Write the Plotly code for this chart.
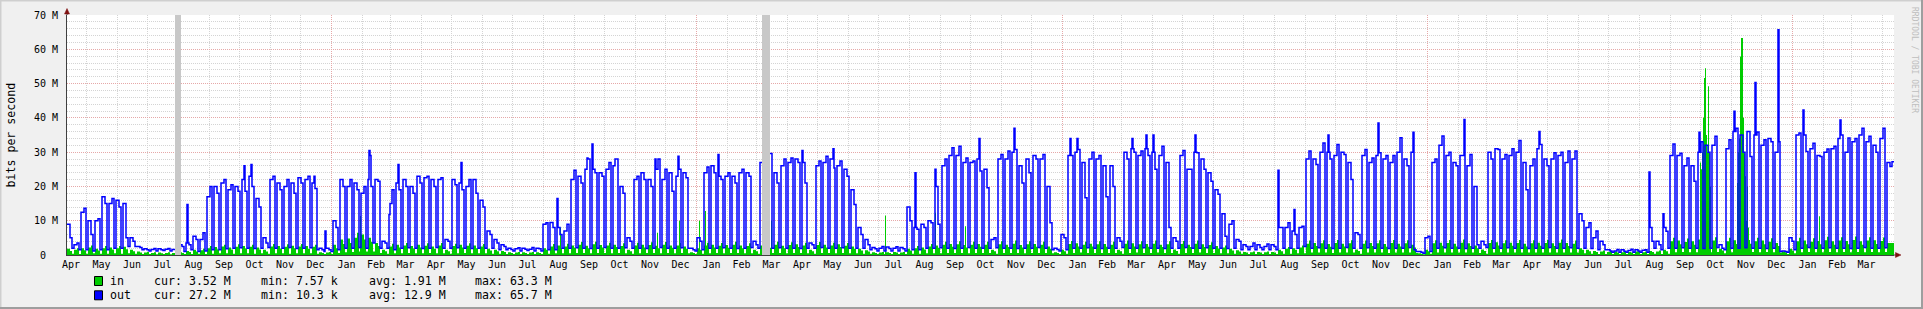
import datetime as dt
import plotly.graph_objects as go

# ---------------- data (values in M bits/s) ----------------
START = dt.date(2010, 4, 12)          # first day on the chart (a Monday)
Y_MAX = 70

# "out": level Mon-Wed per week
out_a = [
    9, 3, 12.5, 10, 10, 17, 15, 16, 15, 5,
    2.5, 1.8, 1.6, 1.8, 1.7, 1.6, 3, 3.5, 5.5, 4.5,
    17, 20, 21, 19, 20, 22, 23, 16.5, 5, 22,
    21, 20, 21, 22.5, 22, 21, 2, 2, 10, 22,
    20, 21, 18, 22, 22, 4, 15, 21, 22, 20,
    23, 22.5, 22, 22, 4.5, 22, 21, 20, 22, 16,
    7, 4.5, 3, 2, 1.8, 2, 1.7, 2, 9, 9.5,
    8, 7, 22, 23, 25, 25, 24, 25, 26, 20,
    5, 22, 24, 22, 25, 22, 24, 23, 24, 2,
    5, 24, 26, 23, 23, 23, 24, 24, 4, 27,
    27, 24, 26, 27, 28, 27, 3.5, 26, 27, 28,
    26, 25, 19, 8, 4.5, 2.2, 2, 2.3, 2, 2.2,
    14, 8, 9, 10, 20, 26, 29, 29, 27, 27,
    28, 25, 4.5, 28, 28, 30, 26, 28, 29, 28,
    20, 2, 6, 29, 30, 27, 28, 28, 26, 26,
    5, 30, 31, 29, 31, 30, 29, 27, 5, 29,
    25, 30, 28, 24, 19, 12, 9, 4.5, 3, 2.5,
    3, 2.5, 3, 8, 8, 7, 8, 28, 28, 30,
    30, 29, 30, 27, 6.5, 29, 27, 29, 28, 27,
    30, 28, 30, 1, 5, 27, 32, 29, 27, 29,
    26, 20, 4, 30, 31, 28, 29, 30, 27, 26,
    31, 28, 28, 29, 27, 28, 12, 8, 5, 4,
    1.5, 1.2, 1.5, 1.3, 1.5, 1.4, 8, 4, 8, 29,
    29, 26, 26, 30, 32, 32, 3, 31, 36, 35,
    36, 35, 32, 34, 30, 1.2, 5, 35, 35, 31,
    29, 30, 31, 34, 30, 33, 35, 33, 32, 34,
    27,
]
# "out": level Thu-Fri per week
out_b = [
    5, 3.5, 13.6, 6, 10.6, 15, 16.5, 14, 5, 4,
    2.2, 1.5, 1.9, 1.5, 1.9, 1.6, 2.5, 3, 4.5, 6.5,
    20, 18, 22, 20.5, 18.6, 18.6, 20, 14, 3.5, 23,
    19, 22, 18, 21, 23, 19.4, 1.5, 1.5, 8, 20,
    22, 19, 20, 20, 21.5, 3.5, 19, 19, 20, 18,
    21, 23, 20, 22.5, 4, 20.5, 19, 22, 18, 14,
    6, 3.5, 2.5, 1.6, 2.1, 1.7, 2.2, 1.8, 9.4, 8,
    6, 9, 24.7, 21, 28, 24, 23, 27, 28, 18,
    4, 23, 22, 20, 28, 25, 18.6, 25, 22.5, 1.5,
    4, 25.7, 24, 22, 24, 21, 25, 23, 3, 27,
    29.6, 21, 28, 28.3, 27, 21, 3, 27.4, 28.8, 25.4,
    27.4, 23, 14.7, 6, 3, 1.8, 2.5, 1.9, 2.4, 1.8,
    10, 7.5, 8, 9.4, 9, 28, 31.3, 31.7, 28.3, 27.4,
    24.5, 19.6, 5, 29.3, 30.3, 30.8, 21, 24, 28, 29.3,
    9.4, 1.6, 5, 29, 30.8, 16.7, 30, 29, 17, 20,
    4, 28, 30, 30.3, 29, 25, 31.7, 8, 4, 30.5,
    25, 29.8, 25, 21.5, 17.7, 5.5, 10, 4, 2.5, 3.5,
    2.2, 3.2, 2.5, 8, 9.4, 6, 8.4, 30.3, 26.4, 32.7,
    28, 32.2, 29.3, 22, 6, 30.8, 28.3, 29.8, 29, 29,
    34.2, 26, 1.5, 0.8, 5.5, 28, 34.7, 30, 26, 29,
    29.3, 3, 3, 28, 30.8, 29.3, 31, 33.4, 19, 28,
    32.2, 26, 29.8, 30, 30.3, 30.3, 10, 9.4, 7, 3,
    1.2, 1.6, 1.1, 1.7, 1.2, 1.5, 4, 3, 6.9, 32.4,
    29.7, 28.3, 21.5, 33, 30, 34.6, 2, 33.6, 37, 30,
    28.7, 35.9, 33.6, 33, 33, 1.0, 4, 35.6, 30.2, 32.6,
    28.7, 30.9, 31.7, 35, 34.1, 34, 37, 34.6, 30, 37,
    25.8,
]
# "out": weekend (Sat-Sun) level per week
out_lo = [
    2.0, 1.5, 1.5, 1.2, 1.5, 1.5, 2.0, 2.0, 2.5, 2.5,
    1.5, 1.2, 1.2, 1.3, 1.2, 1.2, 1.0, 1.5, 1.0, 1.2,
    1.5, 1.5, 1.8, 2.0, 2.1, 2.0, 1.9, 2.0, 2.2, 2.0,
    2.0, 2.2, 1.9, 2.0, 2.1, 1.5, 1.0, 1.0, 1.5, 2.0,
    2.0, 2.2, 2.0, 3.5, 2.0, 2.0, 1.5, 2.0, 2.1, 2.0,
    1.9, 2.0, 2.2, 2.0, 2.0, 2.1, 2.0, 1.9, 2.0, 2.0,
    2.0, 1.5, 1.5, 1.2, 1.2, 1.3, 1.2, 1.2, 1.5, 1.5,
    2.0, 2.0, 2.1, 2.0, 1.9, 2.0, 2.2, 2.0, 2.0, 2.1,
    2.0, 2.0, 1.9, 2.0, 2.2, 2.0, 2.0, 2.1, 2.0, 1.2,
    1.5, 2.0, 2.0, 2.1, 2.0, 1.9, 2.0, 2.2, 2.0, 2.0,
    2.0, 2.1, 2.0, 2.0, 1.9, 2.0, 2.0, 2.2, 2.0, 2.0,
    2.1, 2.0, 2.0, 2.0, 1.5, 1.2, 1.2, 1.2, 1.2, 1.2,
    1.5, 1.5, 2.0, 2.0, 2.1, 2.0, 1.9, 2.0, 2.2, 2.0,
    2.0, 2.0, 2.1, 2.0, 2.0, 1.9, 2.0, 2.0, 2.2, 2.0,
    1.5, 1.2, 1.5, 2.0, 2.0, 2.1, 2.0, 1.9, 2.0, 2.0,
    2.2, 2.0, 2.0, 2.1, 2.0, 2.0, 1.9, 2.0, 2.0, 2.2,
    2.0, 2.0, 2.1, 2.0, 2.0, 1.9, 2.0, 1.5, 1.5, 1.5,
    1.5, 1.5, 1.5, 2.0, 2.0, 2.0, 2.5, 2.0, 2.1, 2.0,
    1.9, 2.0, 2.2, 2.0, 2.0, 2.1, 2.0, 2.0, 1.9, 2.0,
    2.0, 2.2, 1.0, 0.5, 1.0, 2.0, 2.1, 2.0, 2.0, 1.9,
    2.0, 2.0, 2.2, 2.0, 2.0, 2.1, 2.0, 2.0, 1.9, 2.0,
    2.0, 2.2, 2.0, 2.0, 2.1, 2.0, 2.0, 1.9, 1.5, 1.5,
    0.8, 0.8, 0.8, 0.8, 0.8, 0.8, 2.0, 1.5, 2.0, 2.0,
    2.1, 2.0, 2.0, 1.9, 2.0, 2.2, 1.5, 2.0, 2.0, 2.1,
    2.0, 2.0, 1.9, 2.0, 1.0, 0.8, 1.5, 2.0, 2.2, 2.0,
    2.0, 2.1, 2.0, 2.0, 1.9, 2.0, 2.2, 2.0, 2.0, 2.1,
    27.2,
]
# "in": level Mon-Wed per week
in_a = [
    1.8, 1.5, 2.0, 2.2, 1.8, 2.0, 2.2, 2.0, 2.4, 1.5,
    1.0, 0.7, 0.6, 0.7, 0.6, 0.6, 0.8, 1.2, 1.5, 1.4,
    2.0, 2.3, 2.5, 2.2, 2.4, 2.6, 2.4, 2.2, 1.5, 2.5,
    2.6, 2.4, 2.7, 2.5, 2.6, 2.4, 0.8, 0.7, 3.0, 4.5,
    4.8, 5.0, 6.0, 5.0, 3.5, 1.5, 2.5, 3.0, 2.8, 2.6,
    3.0, 2.7, 2.5, 2.8, 1.5, 2.6, 3.0, 2.7, 2.8, 2.5,
    1.8, 1.5, 1.2, 0.8, 0.7, 0.8, 0.7, 0.8, 2.0, 2.5,
    2.8, 2.5, 2.8, 3.0, 2.7, 3.1, 2.9, 2.8, 3.0, 2.6,
    1.5, 2.8, 3.0, 2.9, 2.7, 3.0, 2.8, 2.8, 2.5, 0.8,
    2.0, 2.8, 3.0, 2.7, 2.9, 3.0, 2.8, 2.6, 1.5, 2.8,
    2.9, 3.0, 2.7, 2.9, 3.1, 2.8, 1.5, 2.9, 3.0, 2.8,
    3.1, 2.7, 2.5, 1.8, 1.4, 0.8, 0.7, 0.8, 0.9, 0.7,
    1.8, 2.0, 2.2, 2.5, 2.8, 3.0, 3.2, 3.1, 2.9, 3.0,
    3.2, 3.0, 1.5, 3.1, 3.0, 3.3, 2.9, 3.1, 3.2, 3.0,
    2.5, 0.8, 1.5, 3.2, 3.4, 3.0, 3.3, 3.1, 3.2, 3.0,
    1.5, 3.3, 3.4, 3.1, 3.2, 3.3, 3.0, 3.1, 1.6, 3.2,
    3.0, 3.3, 3.1, 2.9, 2.6, 2.2, 1.8, 1.4, 0.9, 0.8,
    0.9, 0.8, 0.9, 1.5, 1.8, 2.0, 2.2, 3.3, 3.5, 3.4,
    3.2, 3.5, 3.3, 3.4, 1.6, 3.3, 3.5, 3.4, 3.2, 3.5,
    3.3, 3.4, 3.0, 0.5, 1.5, 3.4, 3.6, 3.5, 3.3, 3.6,
    3.4, 2.8, 1.6, 3.5, 3.7, 3.4, 3.6, 3.5, 3.3, 3.4,
    3.6, 3.5, 3.4, 3.6, 3.5, 3.3, 2.0, 1.5, 1.2, 1.0,
    0.9, 1.0, 0.8, 0.9, 1.0, 0.8, 1.2, 1.0, 1.5, 4.0,
    4.2, 3.8, 4.0, 4.5, 4.0, 4.2, 1.8, 4.0, 4.3, 4.1,
    4.4, 4.0, 4.2, 3.9, 3.5, 1.0, 1.8, 4.0, 4.2, 3.9,
    4.1, 4.3, 4.0, 4.2, 4.1, 4.4, 4.0, 4.2, 4.3, 4.1,
    3.5,
]
# "in": level Thu-Fri per week
in_b = [
    1.2, 2.0, 1.4, 2.8, 1.3, 2.6, 1.6, 2.6, 1.7, 1.1,
    0.7, 0.9, 0.8, 0.5, 0.8, 0.5, 0.6, 0.9, 1.0, 1.8,
    2.6, 1.7, 3.0, 1.6, 3.1, 1.9, 3.0, 1.6, 1.0, 3.2,
    1.9, 3.1, 2.0, 3.2, 1.8, 3.0, 0.6, 0.9, 2.0, 3.2,
    3.5, 6.5, 4.5, 3.8, 2.6, 1.1, 3.3, 2.2, 3.5, 1.9,
    2.2, 3.4, 1.8, 3.5, 1.1, 3.3, 2.2, 3.4, 2.0, 3.2,
    1.3, 1.1, 0.9, 0.6, 0.9, 0.6, 0.9, 0.6, 1.5, 3.2,
    2.0, 3.3, 2.1, 3.8, 2.0, 3.9, 2.2, 3.6, 2.3, 3.4,
    1.1, 3.6, 2.2, 3.7, 2.0, 3.8, 2.1, 3.5, 1.8, 0.6,
    1.5, 3.6, 2.2, 3.5, 2.1, 3.9, 2.0, 3.4, 1.1, 3.5,
    2.1, 3.9, 2.0, 3.7, 2.3, 3.6, 1.1, 3.8, 2.2, 3.6,
    2.3, 3.5, 1.8, 1.3, 1.0, 0.6, 0.9, 0.6, 0.7, 0.9,
    1.3, 2.6, 1.6, 3.2, 2.1, 3.9, 2.4, 4.0, 2.2, 3.9,
    2.4, 3.9, 1.1, 4.0, 2.3, 4.2, 2.2, 4.0, 2.4, 3.9,
    1.8, 0.6, 1.1, 4.1, 2.5, 3.9, 2.5, 4.0, 2.4, 3.9,
    1.1, 4.2, 2.5, 4.0, 2.4, 4.2, 2.3, 4.0, 1.2, 4.1,
    2.3, 4.2, 2.3, 3.7, 1.9, 2.8, 1.3, 1.0, 0.7, 1.0,
    0.7, 1.0, 0.7, 1.1, 2.3, 1.5, 2.8, 4.2, 2.6, 4.3,
    2.4, 4.4, 2.5, 4.3, 1.2, 4.2, 2.6, 4.3, 2.4, 4.4,
    2.5, 4.3, 2.2, 0.4, 1.1, 4.3, 2.7, 4.4, 2.5, 4.5,
    2.6, 2.0, 1.2, 4.4, 2.8, 4.3, 2.7, 4.4, 2.5, 4.3,
    2.7, 4.4, 2.6, 4.5, 2.6, 4.2, 1.5, 1.1, 0.9, 1.3,
    1.2, 0.7, 1.1, 0.7, 1.2, 1.0, 0.9, 1.3, 1.1, 5.0,
    3.1, 4.8, 3.0, 5.6, 3.0, 5.2, 1.3, 5.0, 3.2, 5.1,
    3.3, 5.0, 3.1, 4.9, 2.6, 0.8, 1.3, 5.0, 3.1, 4.9,
    3.1, 5.3, 3.0, 5.2, 3.1, 5.4, 3.0, 5.2, 3.2, 5.1,
    3.52,
]
# "in": weekend level per week
in_lo = [
    0.4, 0.3, 0.4, 0.5, 0.4, 0.4, 0.5, 0.4, 0.5, 0.4,
    0.3, 0.3, 0.2, 0.3, 0.2, 0.2, 0.3, 0.3, 0.4, 0.3,
    0.4, 0.5, 0.5, 0.4, 0.5, 0.5, 0.4, 0.5, 0.4, 0.5,
    0.5, 0.4, 0.5, 0.5, 0.5, 0.4, 0.3, 0.3, 0.6, 0.8,
    0.9, 1.0, 1.0, 1.0, 0.6, 0.4, 0.5, 0.5, 0.6, 0.5,
    0.5, 0.6, 0.5, 0.5, 0.4, 0.5, 0.6, 0.5, 0.5, 0.5,
    0.4, 0.4, 0.3, 0.3, 0.3, 0.3, 0.3, 0.3, 0.4, 0.5,
    0.5, 0.5, 0.6, 0.6, 0.5, 0.6, 0.6, 0.5, 0.6, 0.5,
    0.4, 0.5, 0.6, 0.6, 0.5, 0.6, 0.5, 0.6, 0.5, 0.3,
    0.4, 0.5, 0.6, 0.5, 0.6, 0.6, 0.5, 0.5, 0.4, 0.5,
    0.6, 0.6, 0.5, 0.6, 0.6, 0.5, 0.4, 0.6, 0.6, 0.5,
    0.6, 0.5, 0.5, 0.4, 0.4, 0.3, 0.3, 0.3, 0.3, 0.3,
    0.4, 0.4, 0.5, 0.5, 0.5, 0.6, 0.6, 0.6, 0.5, 0.6,
    0.6, 0.6, 0.4, 0.6, 0.6, 0.6, 0.5, 0.6, 0.6, 0.6,
    0.5, 0.3, 0.4, 0.6, 0.7, 0.6, 0.6, 0.6, 0.6, 0.6,
    0.4, 0.6, 0.7, 0.6, 0.6, 0.7, 0.6, 0.6, 0.4, 0.6,
    0.6, 0.7, 0.6, 0.6, 0.5, 0.5, 0.4, 0.4, 0.3, 0.3,
    0.3, 0.3, 0.3, 0.4, 0.4, 0.5, 0.5, 0.7, 0.7, 0.7,
    0.6, 0.7, 0.7, 0.7, 0.4, 0.7, 0.7, 0.7, 0.6, 0.7,
    0.7, 0.7, 0.6, 0.2, 0.4, 0.7, 0.7, 0.7, 0.7, 0.7,
    0.7, 0.6, 0.4, 0.7, 0.8, 0.7, 0.7, 0.7, 0.7, 0.7,
    0.7, 0.7, 0.7, 0.7, 0.7, 0.7, 0.5, 0.4, 0.3, 0.3,
    0.3, 0.3, 0.3, 0.3, 0.3, 0.3, 0.4, 0.3, 0.4, 0.8,
    0.9, 0.8, 0.8, 0.9, 0.8, 0.9, 0.5, 0.8, 0.9, 0.8,
    0.9, 0.8, 0.9, 0.8, 0.7, 0.3, 0.5, 0.8, 0.9, 0.8,
    0.8, 0.9, 0.8, 0.9, 0.8, 0.9, 0.8, 0.9, 0.8, 0.9,
    3.52,
]
# single-day peaks: (day since START, value)
out_peaks = [
    (120, 14.7), (177, 26), (184, 26.4), (247, 23), (258, 7), (302, 30.5),
    (303, 29), (322, 11.8), (331, 26.4), (394, 27), (490, 16.5), (520, 28.3),
    (525, 32.4), (548, 28), (588, 28), (611, 28.8), (651, 29.3), (735, 30.5),
    (766, 31), (848, 24), (868, 25), (912, 34), (947, 37), (1003, 34),
    (1010, 34), (1065, 34), (1079, 35), (1086, 35), (1128, 35), (1211, 24.7),
    (1227, 13.3), (1261, 35), (1311, 38.5), (1346, 35.8), (1397, 39.5),
    (1452, 33.4), (1472, 36), (1582, 24.2), (1596, 12), (1632, 35.8),
    (1667, 41.9), (1688, 50.3), (1711, 65.7), (1736, 42.3), (1773, 39.4),
]
in_peaks = [
    (293, 11.4), (493, 8), (590, 6.5), (612, 10), (632, 10), (638, 12.8),
    (704, 10), (818, 11.5), (868, 12.3), (898, 8.4),
    (1633, 27), (1634, 25), (1635, 30), (1636, 40), (1637, 51.6), (1638, 54.5),
    (1639, 35), (1640, 30), (1641, 49.2), (1642, 30), (1643, 20),
    (1670, 21), (1671, 30), (1672, 34), (1673, 57.9), (1674, 63.3), (1675, 63.3),
    (1676, 40), (1677, 29.7), (1678, 23), (1679, 10), (1680, 20), (1681, 8),
    (1752, 11.3),
]
# periods with unknown data: (first day, day after last)
unknown = [(108, 114), (695, 703)]

y_ticks = [0, 10, 20, 30, 40, 50, 60, 70]
y_labels = ["0\u00a0\u00a0", "10 M", "20 M", "30 M", "40 M", "50 M", "60 M", "70 M"]

legend_rows = [
    ("in", "#00CC00", ["cur: 3.52 M", "min: 7.57 k", "avg: 1.91 M", "max: 63.3 M"]),
    ("out", "#0000FF", ["cur: 27.2 M", "min: 10.3 k", "avg: 12.9 M", "max: 65.7 M"]),
]

# ---------------- build daily series ----------------
def day(i):
    return (START + dt.timedelta(days=i)).isoformat()

def daily(a_vals, b_vals, lo_vals, peaks):
    vals = []
    for a, b, l in zip(a_vals, b_vals, lo_vals):
        vals += [a, a, a, b, b, l, l]
    for d, v in peaks:
        vals[d] = v
    return vals

def segments(vals):
    """split a daily series into runs of known data (unknown periods removed)"""
    cuts = [0]
    for a, b in unknown:
        cuts += [a, b]
    cuts.append(len(vals))
    segs = []
    for s, e in zip(cuts[0::2], cuts[1::2]):
        xs = [day(i) for i in range(s, e + 1)]
        ys = vals[s:e] + [vals[e - 1]]
        segs.append((xs, ys))
    return segs

out_vals = daily(out_a, out_b, out_lo, out_peaks)
in_vals = daily(in_a, in_b, in_lo, in_peaks)
n_days = len(out_vals)
END = day(n_days)

# ---------------- figure ----------------
W, H = 1923, 309
PL, PR, PT, PB = 67, 1894, 15, 255
MONO = "DejaVu Sans Mono"

def px(x):
    return (x - PL) / (PR - PL)

def py(y):
    return (PB - y) / (PB - PT)

fig = go.Figure()
for a, b in unknown:
    fig.add_trace(go.Scatter(
        x=[day(a), day(a), day(b), day(b)], y=[0, Y_MAX, Y_MAX, 0],
        mode="lines", fill="toself", fillcolor="#C8C8C8",
        line=dict(width=0), hoverinfo="skip"))
for xs, ys in segments(in_vals):
    fig.add_trace(go.Scatter(
        x=xs, y=ys, mode="lines", name="in",
        line=dict(color="#00CC00", width=0, shape="hv"),
        fill="tozeroy", fillcolor="#00CC00"))
for xs, ys in segments(out_vals):
    fig.add_trace(go.Scatter(
        x=xs, y=ys, mode="lines", name="out",
        line=dict(color="#0000FF", width=1.5, shape="hv")))
fig.add_trace(go.Scatter(x=[day(0)], y=[None], xaxis="x2", mode="lines",
                         hoverinfo="skip"))

GRID = "#D4D4D4"
MGRID = "#E6A8A8"
DASH = "1px,1px"
axis_font = dict(family=MONO, size=10, color="#000000")

fig.update_layout(
    width=W, height=H, autosize=False,
    margin=dict(l=PL, r=W - PR, t=PT, b=H - PB, pad=0, autoexpand=False),
    paper_bgcolor="#F0F0F0", plot_bgcolor="#FFFFFF", showlegend=False,
    xaxis=dict(type="date", range=[day(0), END], tickmode="linear",
               tick0="2010-01-01", dtick="M1", tickformat="%b",
               ticklabelmode="period", showgrid=True, gridcolor=GRID,
               griddash=DASH, gridwidth=1, showline=True, linecolor="#404040",
               linewidth=1, ticks="", tickfont=axis_font, zeroline=False,
               fixedrange=True),
    xaxis2=dict(type="date", overlaying="x", anchor="y", range=[day(0), END],
                tickmode="linear", tick0="2011-01-01", dtick="M12",
                showticklabels=False, showgrid=True, gridcolor=MGRID,
                griddash=DASH, gridwidth=1, showline=False, ticks="",
                zeroline=False),
    yaxis=dict(range=[0, Y_MAX], tickmode="array", tickvals=y_ticks,
               ticktext=y_labels, showgrid=True, gridcolor=MGRID,
               griddash=DASH, gridwidth=1,
               minor=dict(tickmode="linear", tick0=0, dtick=2, showgrid=True,
                          gridcolor=GRID, griddash=DASH, gridwidth=1),
               showline=True, linecolor="#404040", linewidth=1, zeroline=False,
               ticks="", tickfont=axis_font, ticklabelstandoff=6,
               fixedrange=True),
)

ann = []
ann.append(dict(x=px(10.5), y=py(135), xref="paper", yref="paper",
                text="bits per second", textangle=-90, showarrow=False,
                font=dict(family=MONO, size=11.6, color="#000000"),
                xanchor="center", yanchor="middle"))
ann.append(dict(x=px(1915), y=py(60), xref="paper", yref="paper",
                text="RRDTOOL / TOBI OETIKER", textangle=90, showarrow=False,
                font=dict(family=MONO, size=8, color="#BEBEBE"),
                xanchor="center", yanchor="middle"))

shapes = []
row_y = [281, 295.3]
col_x = [153.3, 260, 367.6, 474.3]
for (name, color, stats), ry in zip(legend_rows, row_y):
    shapes.append(dict(type="rect", xref="paper", yref="paper",
                       x0=px(94.5), x1=px(102.5), y0=py(ry - 4.5), y1=py(ry + 4.5),
                       fillcolor=color, line=dict(color="#000000", width=1)))
    ann.append(dict(x=px(108), y=py(ry), xref="paper", yref="paper", text=name,
                    showarrow=False, xanchor="left", yanchor="middle",
                    font=dict(family=MONO, size=11.6, color="#000000")))
    for cx, s in zip(col_x, stats):
        ann.append(dict(x=px(cx - 1), y=py(ry), xref="paper", yref="paper",
                        text=s.replace(" ", "\u00a0"), showarrow=False,
                        xanchor="left", yanchor="middle",
                        font=dict(family=MONO, size=11.6, color="#000000")))

# axis arrows and extensions
ARROW = "#7F1010"
shapes.append(dict(type="line", xref="paper", yref="paper",
                   x0=px(67), x1=px(67), y0=py(15), y1=py(12),
                   line=dict(color="#404040", width=1)))
shapes.append(dict(type="path", xref="paper", yref="paper",
                   path=f"M {px(64.5)} {py(14)} L {px(67)} {py(8.5)} L {px(69.5)} {py(14)} Z",
                   fillcolor=ARROW, line=dict(color=ARROW, width=0.5)))
shapes.append(dict(type="line", xref="paper", yref="paper",
                   x0=px(1894), x1=px(1896), y0=py(255), y1=py(255),
                   line=dict(color="#404040", width=1)))
shapes.append(dict(type="path", xref="paper", yref="paper",
                   path=f"M {px(1895.5)} {py(252.5)} L {px(1901)} {py(255)} L {px(1895.5)} {py(257.5)} Z",
                   fillcolor=ARROW, line=dict(color=ARROW, width=0.5)))
# 3d frame
shapes.append(dict(type="rect", xref="paper", yref="paper",
                   x0=px(0), x1=px(W), y0=py(0), y1=py(1.5),
                   fillcolor="#CFCFCF", line=dict(width=0)))
shapes.append(dict(type="rect", xref="paper", yref="paper",
                   x0=px(0), x1=px(1.5), y0=py(0), y1=py(H),
                   fillcolor="#CFCFCF", line=dict(width=0)))
shapes.append(dict(type="rect", xref="paper", yref="paper",
                   x0=px(0), x1=px(W), y0=py(H - 2), y1=py(H),
                   fillcolor="#9E9E9E", line=dict(width=0)))
shapes.append(dict(type="rect", xref="paper", yref="paper",
                   x0=px(W - 2), x1=px(W), y0=py(0), y1=py(H),
                   fillcolor="#9E9E9E", line=dict(width=0)))

fig.update_layout(annotations=ann, shapes=shapes)
fig.write_html("out.html", config={"displayModeBar": False})
